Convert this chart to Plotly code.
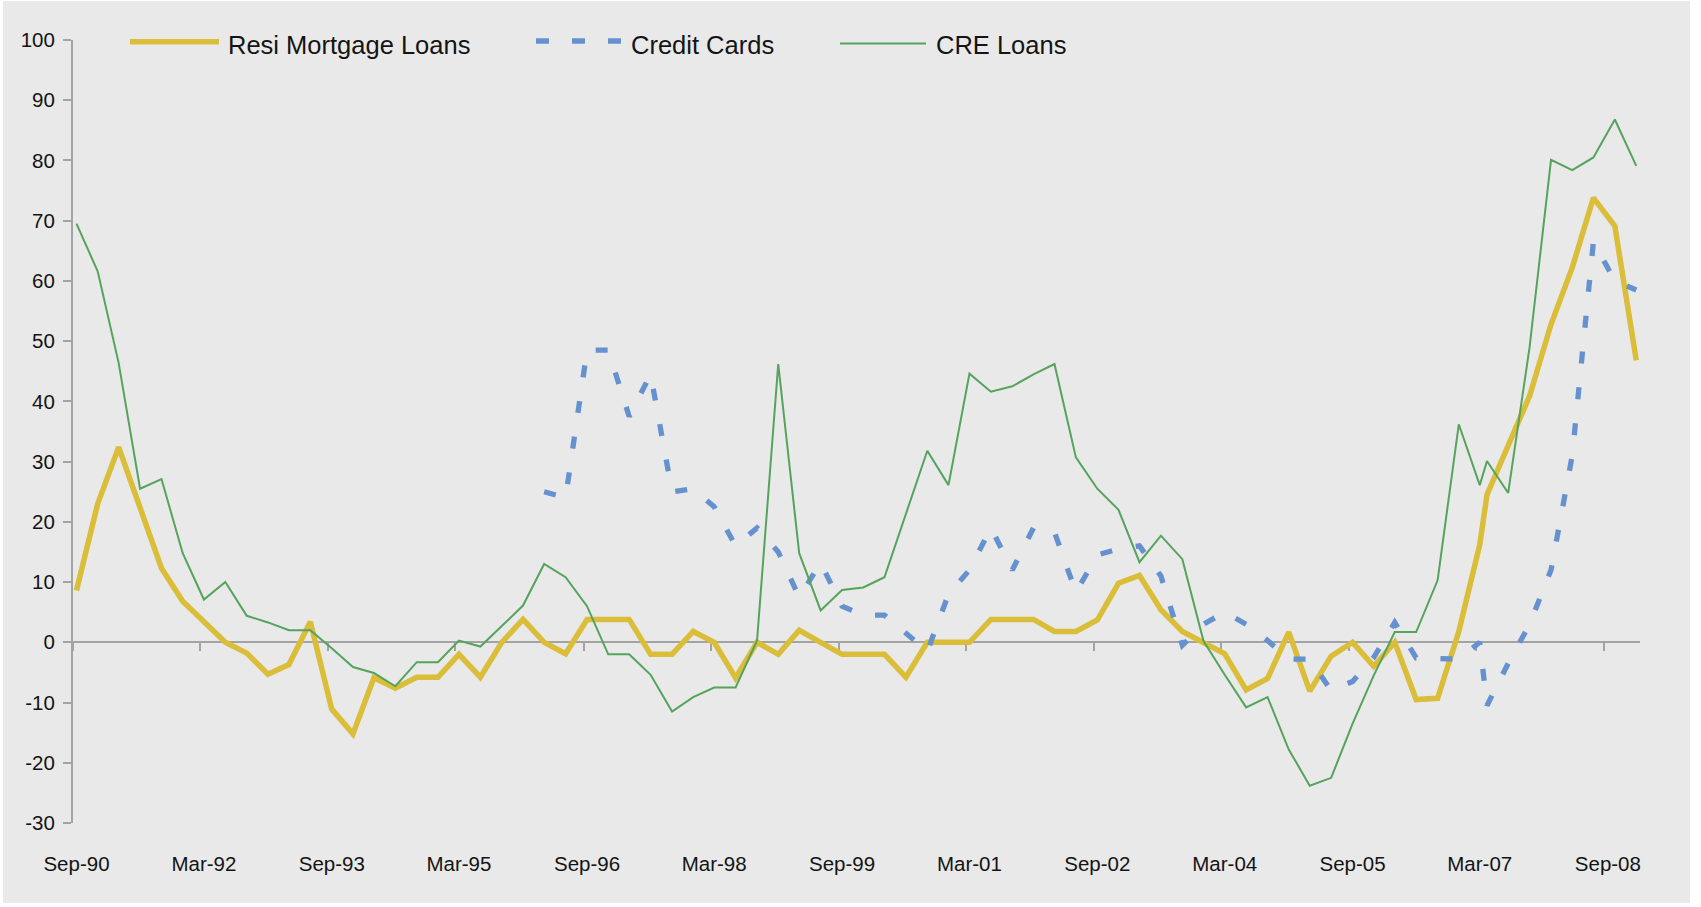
import pandas as pd
import plotly.graph_objects as go

# Survey dates: quarterly through Mar-07, then the Apr/Jul/Oct/Jan schedule
survey_months = [
    "1990-09", "1990-12",
    "1991-03", "1991-06", "1991-09", "1991-12",
    "1992-03", "1992-06", "1992-09", "1992-12",
    "1993-03", "1993-06", "1993-09", "1993-12",
    "1994-03", "1994-06", "1994-09", "1994-12",
    "1995-03", "1995-06", "1995-09", "1995-12",
    "1996-03", "1996-06", "1996-09", "1996-12",
    "1997-03", "1997-06", "1997-09", "1997-12",
    "1998-03", "1998-06", "1998-09", "1998-12",
    "1999-03", "1999-06", "1999-09", "1999-12",
    "2000-03", "2000-06", "2000-09", "2000-12",
    "2001-03", "2001-06", "2001-09", "2001-12",
    "2002-03", "2002-06", "2002-09", "2002-12",
    "2003-03", "2003-06", "2003-09", "2003-12",
    "2004-03", "2004-06", "2004-09", "2004-12",
    "2005-03", "2005-06", "2005-09", "2005-12",
    "2006-03", "2006-06", "2006-09", "2006-12",
    "2007-03", "2007-04", "2007-07", "2007-10",
    "2008-01", "2008-04", "2008-07", "2008-10",
    "2009-01",
]

# Net percentage of banks tightening standards
resi_mortgage = [
    8.6, 23.0, 32.4, 22.3, 12.3, 6.8, 3.4, 0.0, -1.8, -5.3,
    -3.7, 3.4, -11.1, -15.2, -5.9, -7.6, -5.8, -5.8, -2.0, -5.8,
    0.0, 3.8, 0.0, -1.9, 3.8, 3.8, 3.8, -2.0, -2.0, 1.8,
    0.0, -5.9, 0.0, -2.0, 2.0, 0.0, -2.0, -2.0, -2.0, -5.8,
    0.0, 0.0, 0.0, 3.8, 3.8, 3.8, 1.8, 1.8, 3.7, 9.8,
    11.1, 5.4, 1.8, 0.0, -1.9, -7.9, -6.0, 1.7, -8.1, -2.3,
    0.0, -4.0, 0.0, -9.5, -9.3, 1.8, 16.2, 24.5, 32.8, 40.9,
    52.8, 62.2, 73.8, 69.1, 46.8,
]

credit_cards = [
    None, None, None, None, None, None, None, None, None, None,
    None, None, None, None, None, None, None, None, None, None,
    None, None, 25.0, 24.0, 48.5, 48.5, 37.5, 44.5, 25.0, 25.5,
    22.5, 16.0, 19.0, 15.0, 7.5, 13.2, 6.0, 4.5, 4.5, 1.5,
    -1.5, 8.0, 12.0, 19.0, 12.0, 19.0, 18.3, 8.3, 14.5, 15.5,
    16.0, 11.0, -0.5, 3.0, 5.0, 3.0, 0.3, -2.8, -2.8, -8.0,
    -6.5, -2.5, 3.3, -2.6, -2.7, -2.8, 0.0, -10.5, -3.5, 3.0,
    12.0, 31.0, 66.5, 60.0, 58.5,
]

cre_loans = [
    69.5, 61.6, 46.4, 25.5, 27.1, 14.8, 7.1, 10.0, 4.4, 3.3,
    2.0, 2.0, -1.0, -4.1, -5.1, -7.3, -3.3, -3.3, 0.3, -0.7,
    2.7, 6.1, 13.0, 10.8, 6.0, -2.0, -2.0, -5.4, -11.5, -9.1,
    -7.5, -7.5, 0.3, 46.2, 14.8, 5.3, 8.7, 9.1, 10.8, 21.2,
    31.8, 26.1, 44.6, 41.6, 42.5, 44.5, 46.2, 30.7, 25.5, 22.0,
    13.3, 17.7, 13.8, 0.2, -5.4, -10.8, -9.1, -17.8, -23.8, -22.5,
    -13.5, -5.5, 1.7, 1.7, 10.3, 36.2, 26.1, 30.1, 24.8, 49.0,
    80.1, 78.4, 80.5, 86.8, 79.1,
]

label_months = [
    "1990-09", "1992-03", "1993-09", "1995-03", "1996-09", "1998-03", "1999-09",
    "2001-03", "2002-09", "2004-03", "2005-09", "2007-03", "2008-09",
]
label_text = [
    "Sep-90", "Mar-92", "Sep-93", "Mar-95", "Sep-96", "Mar-98", "Sep-99",
    "Mar-01", "Sep-02", "Mar-04", "Sep-05", "Mar-07", "Sep-08",
]

y_ticks = [-30, -20, -10, 0, 10, 20, 30, 40, 50, 60, 70, 80, 90, 100]
y_tick_text = ["-30", "-20", "-10", "0", "10", "20", "30", "40", "50",
               "60", "70", "80", "90", "100"]

# ---- styling -------------------------------------------------------------
FONT = "Liberation Sans, Arial, sans-serif"
TEXT = "#141414"
AXIS = "#A3A3A3"
BG = "#E9E9E9"
YELLOW = "#DABD39"
BLUE = "#6592CF"
GREEN = "#55A35C"
BLUE_DASH = "12px,24px"

W, H = 1701, 907
M_L, M_R, M_T, M_B = 73, 61, 40, 84
PLOT_W = W - M_L - M_R
PLOT_H = H - M_T - M_B
Y_MIN, Y_MAX = -30, 100


def paper_x(px):
    return (px - M_L) / PLOT_W


def paper_y(py):
    return (H - M_B - py) / PLOT_H


# each survey month is plotted at the middle of its month slot
month_start = pd.to_datetime(survey_months, format="%Y-%m")
x_mid = month_start + pd.Timedelta(days=15)
label_start = pd.to_datetime(label_months, format="%Y-%m")
label_mid = label_start + pd.Timedelta(days=15)
x_range = ["1990-09-01", "2009-02-01"]

fig = go.Figure()
fig.add_trace(go.Scatter(
    x=x_mid, y=resi_mortgage, mode="lines", name="Resi Mortgage Loans",
    line=dict(color=YELLOW, width=5.5), showlegend=False,
))
fig.add_trace(go.Scatter(
    x=x_mid, y=credit_cards, mode="lines", name="Credit Cards",
    line=dict(color=BLUE, width=5.3, dash=BLUE_DASH), showlegend=False,
))
fig.add_trace(go.Scatter(
    x=x_mid, y=cre_loans, mode="lines", name="CRE Loans",
    line=dict(color=GREEN, width=2), showlegend=False,
))
# carrier for the axis drawn through zero
fig.add_trace(go.Scatter(x=[], y=[], xaxis="x2", showlegend=False, hoverinfo="skip"))

# chart panel background
fig.add_shape(type="rect", xref="paper", yref="paper",
              x0=paper_x(3), x1=paper_x(1690), y0=paper_y(903), y1=paper_y(1),
              fillcolor=BG, line=dict(width=0), layer="below")

# legend row
legend_items = [
    ("Resi Mortgage Loans", dict(color=YELLOW, width=5.5), 130, 219, 41.7, 226),
    ("Credit Cards", dict(color=BLUE, width=5.3, dash="13px,23px"), 536, 621, 41.0, 629),
    ("CRE Loans", dict(color=GREEN, width=2), 840, 926, 43.5, 934),
]
for label, style, lx0, lx1, ly, tx in legend_items:
    fig.add_shape(type="line", xref="paper", yref="paper",
                  x0=paper_x(lx0), x1=paper_x(lx1), y0=paper_y(ly), y1=paper_y(ly),
                  line=style)
    fig.add_annotation(x=paper_x(tx), y=paper_y(45), xref="paper", yref="paper",
                       text=label, showarrow=False, xanchor="left", yanchor="middle",
                       font=dict(family=FONT, size=25.5, color=TEXT))

fig.update_layout(
    width=W, height=H,
    margin=dict(l=M_L, r=M_R, t=M_T, b=M_B, pad=0),
    paper_bgcolor="white",
    plot_bgcolor="rgba(0,0,0,0)",
    font=dict(family=FONT, size=20.5, color=TEXT),
    showlegend=False,
    xaxis=dict(
        type="date", range=x_range,
        tickmode="array", tickvals=label_mid, ticktext=label_text,
        ticks="", showline=False, showgrid=False, zeroline=False,
        ticklabelstandoff=26,
        tickfont=dict(family=FONT, size=20.5, color=TEXT),
    ),
    xaxis2=dict(
        type="date", range=x_range, overlaying="x", anchor="free",
        position=(0 - Y_MIN) / (Y_MAX - Y_MIN), side="bottom",
        tickmode="array", tickvals=label_start, showticklabels=False,
        ticks="outside", ticklen=8, tickwidth=2, tickcolor=AXIS,
        showline=True, linecolor=AXIS, linewidth=2,
        showgrid=False, zeroline=False, layer="below traces",
    ),
    yaxis=dict(
        range=[Y_MIN, Y_MAX], tickmode="array", tickvals=y_ticks, ticktext=y_tick_text,
        ticks="outside", ticklen=8, tickwidth=2, tickcolor=AXIS,
        showline=True, linecolor=AXIS, linewidth=2,
        showgrid=False, zeroline=False, layer="below traces",
        ticklabelstandoff=4,
        tickfont=dict(family=FONT, size=20.5, color=TEXT),
    ),
)

fig.write_html("out.html")
